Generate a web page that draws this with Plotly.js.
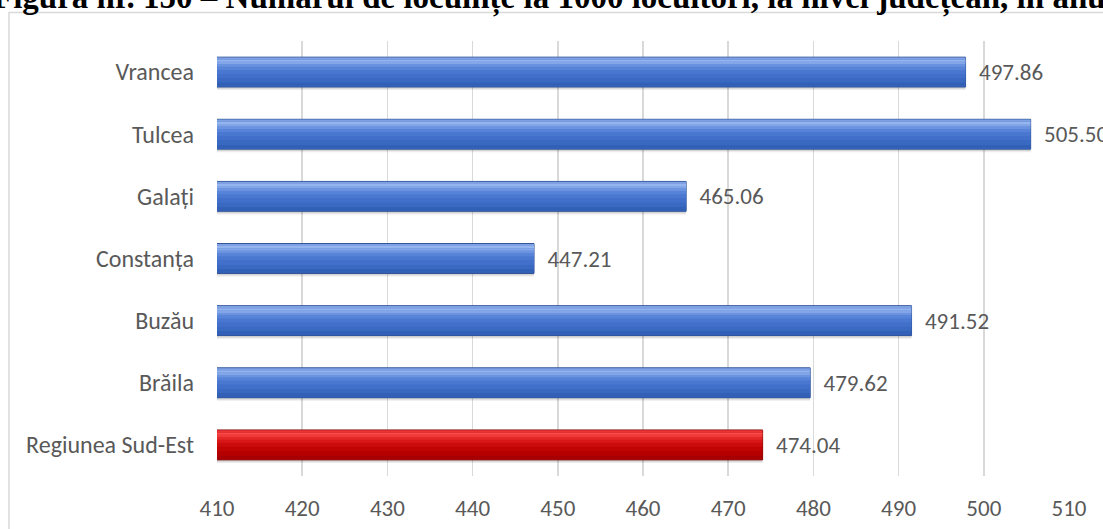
<!DOCTYPE html>
<html>
<head>
<meta charset="utf-8">
<script src="https://cdn.plot.ly/plotly-3.0.1.min.js"></script>
<style>html,body{margin:0;padding:0;background:#fff;}#chart{width:1103px;height:529px;}</style>
</head>
<body>
<div id="chart"></div>
<script>
// ---- data (bottom to top, as drawn) ----
const categories = ["Regiunea Sud-Est", "Brăila", "Buzău", "Constanța", "Galați", "Tulcea", "Vrancea"];
const values = [474.04, 479.62, 491.52, 447.21, 465.06, 505.50, 497.86];
const tickValues = [410, 420, 430, 440, 450, 460, 470, 480, 490, 500, 510];
const titleText = "Figura nr. 150 – Numărul de locuințe la 1000 locuitori, la nivel județean, în anul";

// ---- styles ----
const W = 1103, H = 529;
const L = 217, R = 1069, T = 41, B = 476;
const pw = R - L, ph = B - T;
const px2x = p => (p - L) / pw;
const px2y = p => (B - p) / ph;

const isRegion = c => c === "Regiunea Sud-Est";
const pal = (blue, red) => categories.map(c => isRegion(c) ? red : blue);

const FONT = "Calibri, Carlito, Lato, sans-serif";
const GREY = "#595959";

function layer(width, offset, colors, extra) {
  return Object.assign({
    type: "bar", orientation: "h", x: values, y: categories,
    width: width, offset: offset,
    marker: { color: colors, line: { width: 0 } },
    hoverinfo: "skip", showlegend: false
  }, extra || {});
}

// gradient bands: [bottomOffset, width, blue, red]
const bands = [
  [-0.235, 0.07, "#3160b6", "#a80000"],
  [-0.165, 0.07, "#3a69c2", "#b60000"],
  [-0.095, 0.07, "#426fc9", "#c00404"],
  [-0.025, 0.06, "#4a78d1", "#cc0c0c"],
  [0.035, 0.05, "#5784d8", "#d81818"],
  [0.085, 0.04, "#6b93df", "#e42828"],
  [0.125, 0.04, "#82a6e7", "#f03a3a"],
  [0.165, 0.035, "#95b5ee", "#fa4c4c"],
  [0.200, 0.035, "#7fa1e3", "#e83434"]
];

const traces = [
  // soft shadow
  layer(0.53, -0.29, pal("rgba(0,0,0,0.08)", "rgba(0,0,0,0.08)")),
  layer(0.51, -0.27, pal("rgba(0,0,0,0.10)", "rgba(0,0,0,0.10)")),
  // main body
  layer(0.48, -0.24, pal("#4677d1", "#c80808"), {
    marker: { color: pal("#4677d1", "#c80808"), line: { width: 1, color: pal("#2c4f94", "#7a0000") } },
    text: values.map(v => "\u00a0\u00a0" + v.toFixed(2)),
    textposition: "outside",
    textfont: { family: FONT, size: 23, color: GREY },
    constraintext: "none",
    cliponaxis: false
  })
].concat(bands.map(b => layer(b[1], b[0], pal(b[2], b[3]))));

const layout = {
  width: W, height: H,
  margin: { l: L, r: W - R, t: T, b: H - B, pad: 0 },
  paper_bgcolor: "#ffffff", plot_bgcolor: "#ffffff",
  barmode: "overlay",
  font: { family: FONT, color: GREY, size: 23 },
  xaxis: {
    range: [410, 510], tickmode: "array", tickvals: tickValues,
    ticktext: tickValues.map(String),
    showgrid: true, gridcolor: "#d9d9d9", gridwidth: 1.5,
    zeroline: false, showline: false, ticks: "",
    ticklabelstandoff: 16,
    tickfont: { family: FONT, size: 23, color: GREY },
    fixedrange: true
  },
  yaxis: {
    type: "category", categoryorder: "array", categoryarray: categories,
    showgrid: false, zeroline: false, showline: false, ticks: "",
    ticklabelstandoff: 22,
    tickfont: { family: FONT, size: 24, color: GREY },
    fixedrange: true
  },
  shapes: [{
    type: "rect", xref: "paper", yref: "paper",
    x0: px2x(9), x1: px2x(1115), y0: px2y(545), y1: px2y(12.5),
    line: { color: "#d9d9d9", width: 1.5 }, fillcolor: "rgba(0,0,0,0)", layer: "below"
  }],
  annotations: [{
    text: "<b>" + titleText + "</b>",
    xref: "paper", yref: "paper", x: px2x(-9), y: px2y(-2),
    xanchor: "left", yanchor: "middle", showarrow: false,
    font: { family: "Liberation Serif, 'Times New Roman', serif", size: 33, color: "#000000" }
  }]
};

Plotly.newPlot("chart", traces, layout, { displayModeBar: false, staticPlot: true });
</script>
</body>
</html>
